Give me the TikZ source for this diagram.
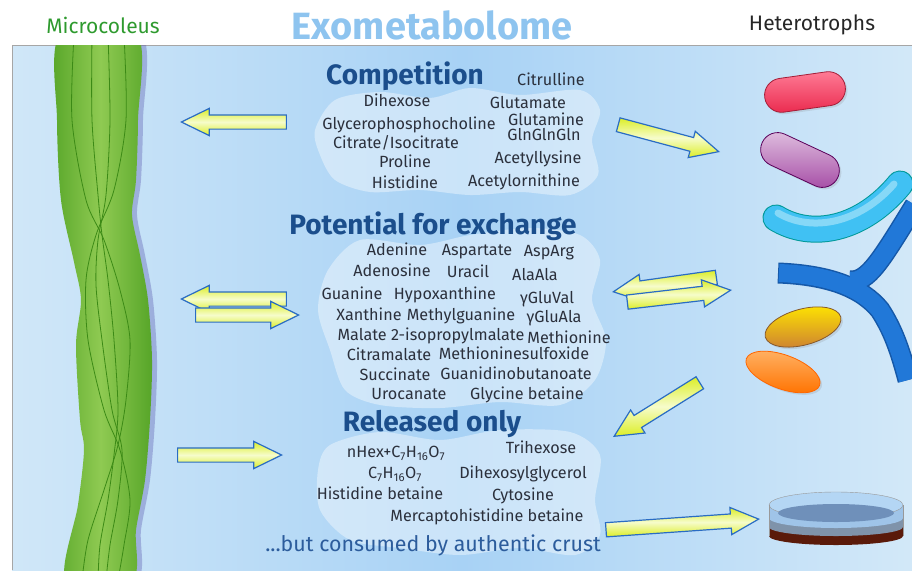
\documentclass[tikz,border=0pt]{standalone}
\usepackage{fontspec}
\setmainfont{Fira Sans}
\usetikzlibrary{shapes.arrows,shapes.misc,shapes.geometric,shadows}

\definecolor{bgside}{HTML}{D0E7F8}
\definecolor{bgmid}{HTML}{A8D2F5}
\definecolor{headblue}{HTML}{1B4E8C}
\definecolor{titleblue}{HTML}{8EC4EF}
\definecolor{metgray}{HTML}{2B303C}
\definecolor{crustblue}{HTML}{2C5C9C}
\definecolor{arrowline}{HTML}{2A6CC4}
\definecolor{arrowyellow}{HTML}{DCEE26}
\definecolor{arrowlight}{HTML}{F6FCCB}
\definecolor{algadark}{HTML}{3C8A16}
\definecolor{algaside}{HTML}{56A528}
\definecolor{algamid}{HTML}{8FCA52}
\definecolor{microgreen}{HTML}{2E9A2E}
\definecolor{ybranch}{HTML}{2178D8}
\definecolor{ybranchdark}{HTML}{1558A8}
\definecolor{crustbrown}{HTML}{5A1A0A}
\definecolor{crustgray}{HTML}{7F93AA}
\definecolor{dishside}{HTML}{9FC4E8}
\definecolor{dishtop}{HTML}{B4D6F4}
\definecolor{dishliquid}{HTML}{6F90BA}
\definecolor{rodtop}{HTML}{FF7C96}
\definecolor{rodbottom}{HTML}{EA2A4E}

\begin{document}
\begin{tikzpicture}[x=1pt, y=-1pt,
  met/.style={text=metgray, font=\fontsize{16.2}{16}\selectfont, inner sep=0pt, text height=12pt, text depth=3pt},
  head/.style={text=headblue, font=\fontsize{28}{28}\selectfont\bfseries, inner sep=0pt},
  fat/.style={single arrow, draw=arrowline, line width=1.2pt, inner sep=0pt, anchor=tip,
    text height=13pt, text depth=0pt, single arrow head extend=6.5pt, single arrow tip angle=52,
    top color=arrowyellow, bottom color=arrowyellow, middle color=arrowlight},
  blob/.style={fill=white, fill opacity=0.4},
  cell/.style={line width=0.8pt, drop shadow={opacity=0.2, shadow xshift=2pt, shadow yshift=-2pt}},
  yarm/.style={line width=#1, line cap=butt},
  strand/.style={algadark, line width=0.8pt}
]
\useasboundingbox (0,0) rectangle (912,570);

% panel
\shade[left color=bgside, right color=bgside!95!white, middle color=bgmid] (12,45) rectangle (912,570);
\draw[gray!70, line width=0.8pt] (12,570) -- (12,45) -- (912,45);

% headers
\node[text=titleblue, font=\fontsize{38}{38}\selectfont\bfseries, inner sep=0pt] (title) at (432,25) {Exometabolome};
\node[text=microgreen, font=\fontsize{21}{21}\selectfont, inner sep=0pt] (micro) at (103,25) {Microcoleus};
\node[text=black!85, font=\fontsize{21}{21}\selectfont, inner sep=0pt] (hetero) at (812,25) {Heterotrophs};

% pale blobs behind the lists
\path[blob] plot[smooth cycle] coordinates {(315,130) (335,100) (380,92) (430,98) (470,88) (520,95) (580,90) (600,110) (592,140) (598,175) (570,195) (520,192) (470,195) (420,190) (370,192) (335,180) (320,155)};
\path[blob] plot[smooth cycle] coordinates {(360,240) (420,245) (470,235) (530,228) (580,235) (600,260) (592,300) (606,340) (595,380) (560,405) (500,402) (440,408) (380,405) (345,390) (330,350) (318,310) (328,270)};
\path[blob] plot[smooth cycle] coordinates {(330,445) (380,432) (440,440) (500,430) (570,432) (600,455) (595,500) (600,535) (575,555) (520,548) (460,555) (400,548) (350,540) (320,510) (318,470)};

% filament bundle
\begin{scope}
\clip (12,45) rectangle (912,570);
\fill[blue!35!gray, opacity=0.35, xshift=5pt] plot[smooth cycle] coordinates {(60,35) (57,120) (61,200) (74,262) (81,300) (76,345) (80,420) (84,450) (78,505) (66,580) (132,580) (136,530) (145,480) (150,420) (152,360) (148,300) (140,255) (132,215) (136,180) (138,120) (137,35)};
\shade[left color=algaside, right color=algaside, middle color=algamid] plot[smooth cycle] coordinates {(60,35) (57,120) (61,200) (74,262) (81,300) (76,345) (80,420) (84,450) (78,505) (66,580) (132,580) (136,530) (145,480) (150,420) (152,360) (148,300) (140,255) (132,215) (136,180) (138,120) (137,35)};
\draw[strand] plot[smooth] coordinates {(74,35) (72,120) (86,200) (104,240) (120,290) (130,340) (126,400) (118,445) (104,490) (88,540) (82,580)};
\draw[strand] plot[smooth] coordinates {(124,35) (126,120) (114,190) (96,235) (86,280) (88,340) (104,410) (120,450) (130,500) (124,545) (118,580)};
\draw[strand] plot[smooth] coordinates {(92,35) (92,120) (98,195) (102,235) (108,280) (114,340) (118,410) (114,455) (108,500) (100,545) (98,580)};
\draw[strand] plot[smooth] coordinates {(108,35) (110,120) (106,195) (98,240) (96,285) (102,340) (112,410) (122,450) (118,500) (110,545) (106,580)};
\end{scope}

% competition
\node[head] (comp) at (405,76) {Competition};
\node[met] (citr) at (551,81) {Citrulline};
\node[met] (dihex) at (397,102) {Dihexose};
\node[met] (glut) at (528,104) {Glutamate};
\node[met] (gpc) at (409,125) {Glycerophosphocholine};
\node[met] (glnn) at (546,121) {Glutamine};
\node[met] (glntri) at (544,136) {GlnGlnGln};
\node[met] (citiso) at (396,144) {Citrate/Isocitrate};
\node[met] (pro) at (405,163) {Proline};
\node[met] (acelys) at (538,159) {Acetyllysine};
\node[met] (his) at (405,184) {Histidine};
\node[met] (aceorn) at (524,182) {Acetylornithine};

% exchange
\node[head] (exch) at (433,226) {Potential for exchange};
\node[met] (ade) at (397,251) {Adenine};
\node[met] (asp) at (477,251) {Aspartate};
\node[met] (asparg) at (549,252) {AspArg};
\node[met] (ados) at (392,272) {Adenosine};
\node[met] (ura) at (468,273) {Uracil};
\node[met] (alaala) at (535,276) {AlaAla};
\node[met] (gua) at (352,295) {Guanine};
\node[met] (hyp) at (445,295) {Hypoxanthine};
\node[met] (gluval) at (547,299) {γGluVal};
\node[met] (xan) at (369,316) {Xanthine};
\node[met] (mgua) at (461,316) {Methylguanine};
\node[met] (glula) at (554,318) {γGluAla};
\node[met] (mal) at (431,336) {Malate 2-isopropylmalate};
\node[met] (met) at (569,339) {Methionine};
\node[met] (citm) at (389,356) {Citramalate};
\node[met] (metso) at (514,355) {Methioninesulfoxide};
\node[met] (succ) at (395,376) {Succinate};
\node[met] (gbut) at (516,375) {Guanidinobutanoate};
\node[met] (uro) at (409,395) {Urocanate};
\node[met] (glyb) at (527,395) {Glycine betaine};

% released
\node[head] (rel) at (432,424) {Released only};
\node[met] (nhex) at (396,453) {nHex+C\textsubscript{7}H\textsubscript{16}O\textsubscript{7}};
\node[met] (trihex) at (541,449) {Trihexose};
\node[met] (chO) at (395,474) {C\textsubscript{7}H\textsubscript{16}O\textsubscript{7}};
\node[met] (dhg) at (523,474) {Dihexosylglycerol};
\node[met] (hisb) at (380,495) {Histidine betaine};
\node[met] (cyt) at (523,496) {Cytosine};
\node[met] (mhb) at (487,517) {Mercaptohistidine betaine};
\node[text=crustblue, font=\fontsize{21.4}{21}\selectfont, inner sep=0pt] (crust) at (433,545) {...but consumed by authentic crust};

% arrows, left side (placed by their tips)
\node[fat, minimum height=105pt, rotate=180] (compL) at (180,122) {};
\node[fat, minimum height=105pt, rotate=180] (exchL1) at (180,299) {};
\node[fat, minimum height=103pt] (exchL2) at (300,315) {};
\node[fat, minimum height=104pt] (relL) at (283,455) {};
% arrows, right side
\node[fat, minimum height=104pt, rotate=-15] (compR) at (720,152) {};
\node[fat, minimum height=104pt, rotate=188] (exchR1) at (612,292) {};
\node[fat, minimum height=104pt, rotate=6.6] (exchR2) at (732,290) {};
\node[fat, minimum height=101pt, rotate=212] (relR) at (613,437) {};
\node[fat, minimum height=153pt, rotate=4] (crustR) at (760,519) {};

% heterotrophs
\node[cell, rounded rectangle, draw=rodbottom!70!black, top color=rodtop, bottom color=rodbottom, minimum width=88pt, minimum height=34pt, rotate=8] (rodred) at (805,92) {};
\node[cell, rounded rectangle, draw=violet!70!black, top color=violet!25, bottom color=violet!70!white, minimum width=90pt, minimum height=34pt, rotate=-25] (rodviolet) at (800,160) {};
\draw[teal!80!cyan, line width=27pt, line cap=round] (776,218) .. controls (812,240) and (862,230) .. (900,184);
\draw[cyan!75!white, line width=25pt, line cap=round] (776,218) .. controls (812,240) and (862,230) .. (900,184);
\draw[cyan!20!white, opacity=0.5, line width=7pt, line cap=round] (778,213) .. controls (812,233) and (860,223) .. (894,184);
\begin{scope}
\clip (12,45) rectangle (912,570);
\draw[ybranchdark, yarm=21pt] (778,273) .. controls (830,275) and (862,288) .. (880,310) .. controls (893,330) and (900,350) .. (908,380);
\draw[ybranchdark, yarm=21pt] (850,281) .. controls (868,282) and (880,262) .. (915,205);
\draw[ybranch, yarm=18pt] (779,273) .. controls (830,275) and (862,288) .. (880,310) .. controls (893,330) and (900,350) .. (908,380);
\draw[ybranch, yarm=18pt] (850,281) .. controls (868,282) and (880,262) .. (915,205);
\end{scope}
\node[cell, ellipse, draw=brown!70!black, top color=yellow!80!orange, bottom color=brown!80!orange, minimum width=78pt, minimum height=36pt, rotate=15] (cellgold) at (803,327) {};
\node[cell, ellipse, draw=orange!80!red, top color=orange!60!white, bottom color=orange!90!red, minimum width=78pt, minimum height=34pt, rotate=-20] (cellorange) at (783,372) {};

% crust dish
\fill[crustbrown] (769,526) rectangle (903,536);
\fill[crustbrown] (836,536) ellipse (67 and 9);
\fill[crustgray] (769,517) rectangle (903,527);
\fill[crustgray] (836,527) ellipse (67 and 9);
\fill[dishside] (769,505) rectangle (903,518);
\fill[dishside] (836,518) ellipse (67 and 10);
\draw[gray!80, fill=dishtop] (836,505) ellipse (67 and 13);
\fill[dishliquid] (836,513) ellipse (58 and 9);
\draw[gray!80] (769,505) -- (769,536) (903,505) -- (903,536);
\end{tikzpicture}
\end{document}
